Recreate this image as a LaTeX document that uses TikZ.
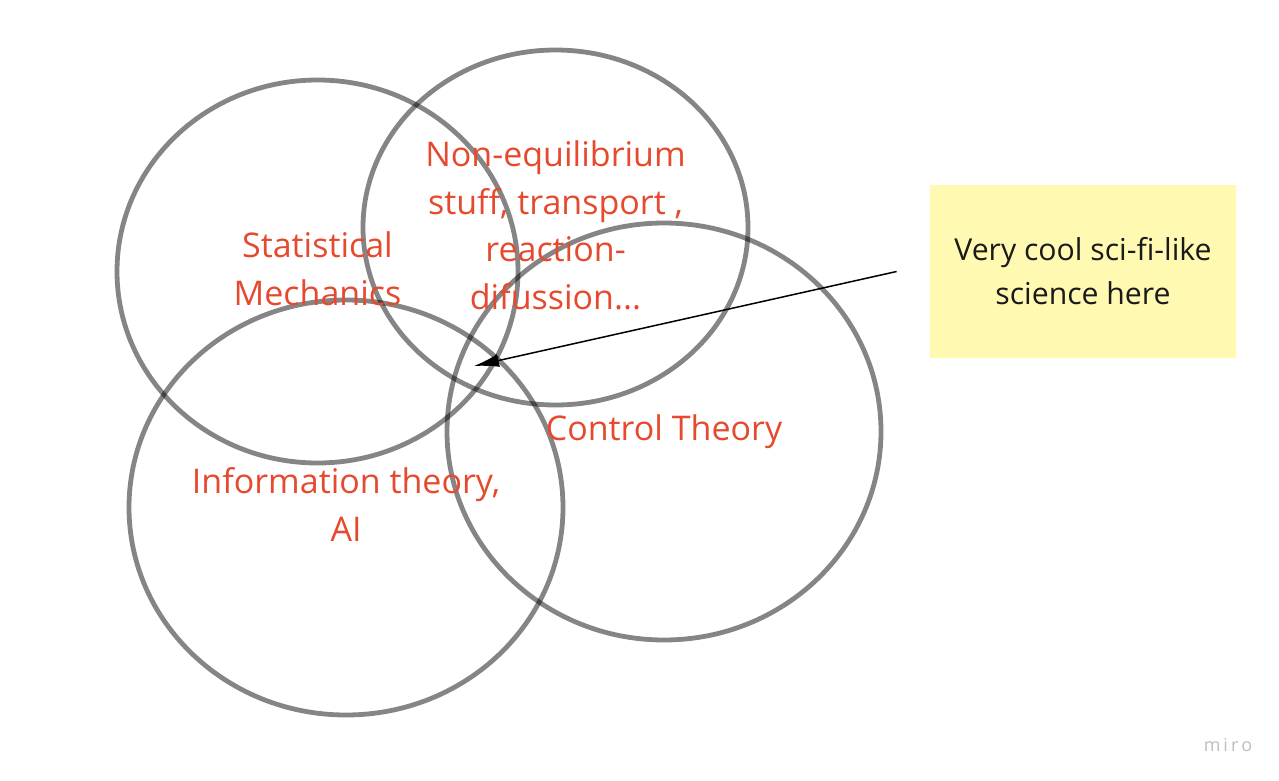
\documentclass[tikz,border=0pt]{standalone}
\usepackage{fontspec}
\setmainfont{Open Sans}
\usepackage{tikz}
\usetikzlibrary{arrows.meta,positioning}
\definecolor{labred}{HTML}{E64A2E}
\definecolor{stickyyellow}{HTML}{FFF9B1}
\definecolor{notetext}{HTML}{1A1A1A}
\definecolor{mirogray}{HTML}{BDBDC6}

\begin{document}
\begin{tikzpicture}[x=0.5pt,y=-0.5pt,
    ring/.style={draw=black, draw opacity=0.48, line width=2.4pt},
    field/.style={text=labred, align=center, font=\fontsize{17pt}{23.8pt}\selectfont},
    sticky/.style={fill=stickyyellow, text=notetext, align=center, inner sep=0pt,
        minimum width=153pt, minimum height=86.5pt, font=\fontsize{15.1pt}{22pt}\selectfont}]
        \useasboundingbox (0,0) rectangle (1279,781);

        % centres of the four fields
        \coordinate (S) at (317.5,271.5);
        \coordinate (N) at (555.5,227.5);
        \coordinate (C) at (664,431.5);
        \coordinate (I) at (346,507.5);

        \draw[ring] (S) ellipse [x radius=100.25pt, y radius=95.75pt];
        \draw[ring] (N) ellipse [x radius=96.25pt, y radius=88.75pt];
        \draw[ring] (C) ellipse [x radius=108.5pt, y radius=104.25pt];
        \draw[ring] (I) ellipse [x radius=108.5pt, y radius=103.75pt];

        \node[field, yshift=1.5pt] (stat) at (S) {Statistical\\Mechanics};
        \node[field, yshift=1pt] (noneq) at (N) {Non-equilibrium\\stuff, transport ,\\reaction-\\difussion...};
        \node[field] (ctrl) at (C) {Control Theory};
        \node[field, yshift=1.5pt] (info) at (I) {Information theory,\\AI};

        % sticky note and its pointer
        \node[sticky] (note) at (1083,271.5) {Very cool sci-fi-like\\science here};
        \coordinate[left=16.5pt of note.west] (tail);
        \coordinate (spot) at (474,366);
        \draw[line width=0.75pt, -{Latex[length=12.5pt,width=6.5pt]}] (tail) -- (spot);

        \node[text=mirogray, font=\fontsize{9pt}{10pt}\selectfont] (miro) at (1228,745) {m\,i\,r\,o};
    \end{tikzpicture}
\end{document}
